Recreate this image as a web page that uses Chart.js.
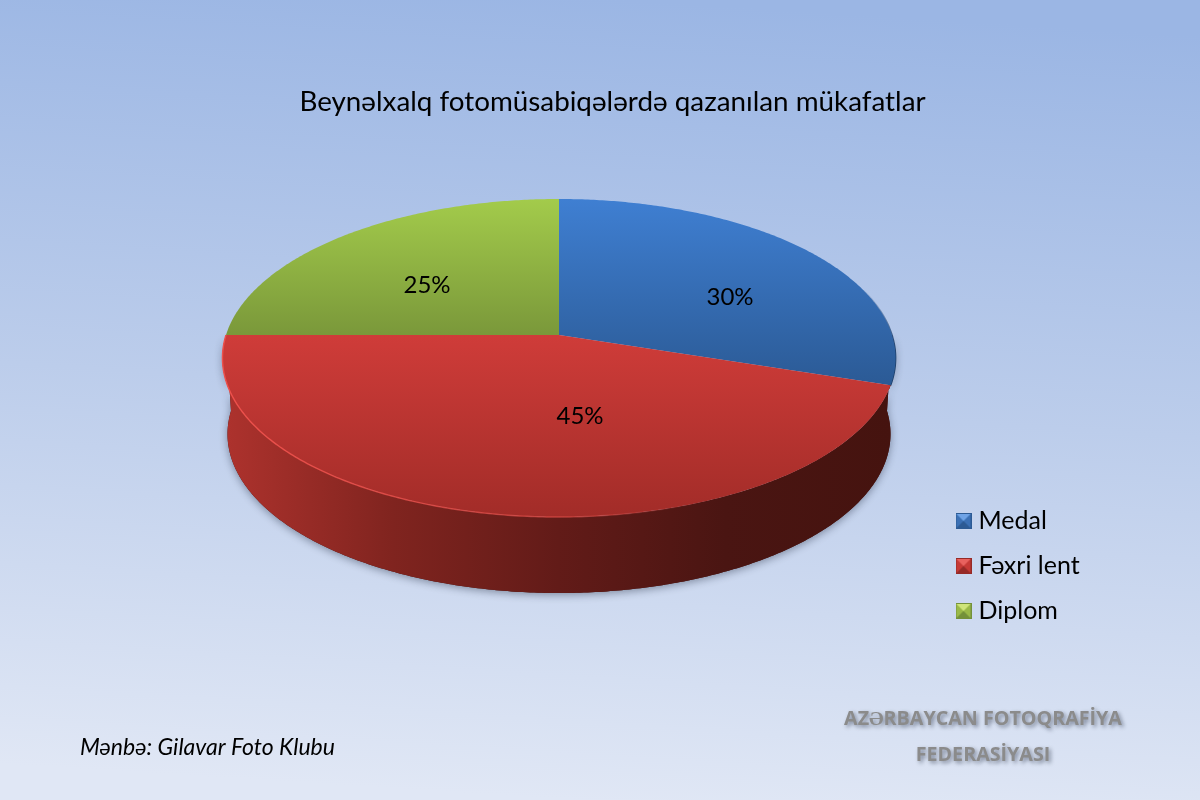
<!DOCTYPE html>
<html><head><meta charset="utf-8">
<style>html,body{margin:0;padding:0;width:1200px;height:800px;overflow:hidden}canvas{display:block}</style>
<script src="https://cdn.jsdelivr.net/npm/chart.js@4"></script>
</head><body>
<canvas id="c" width="1200" height="800"></canvas>
<script>
const categories = ["Medal", "Fəxri lent", "Diplom"];
const shares = [30, 45, 25];
const titleText = "Beynəlxalq fotomüsabiqələrdə qazanılan mükafatlar";
const sourceText = "Mənbə: Gilavar Foto Klubu";
const brandLines = ["AZƏRBAYCAN FOTOQRAFİYA", "FEDERASİYASI"];
const faceTop = ["#3f7fd2", "#cf3c39", "#a3cb4b"];
const faceBottom = ["#2b5a95", "#a22c28", "#7a983a"];
const legendFill = ["#3b70b5", "#c63a36", "#9ab948"];
const legendLight = ["#6fa3e6", "#e8625e", "#cfe57a"];
const legendDark = ["#2c5a94", "#962a27", "#74913a"];
const labelOffset = [[171, -38], [21, 81], [-132, -50]];

const PERSP = -0.1447, KY = 155.7, WALL = 76, BASE = 0.985;
function pt(el, a, wall) {
  const u = Math.cos(a), v = Math.sin(a), d = 1 + PERSP * v;
  const sx = wall ? BASE : 1;
  return [el.x + el.outerRadius * sx * u / d, el.y + KY * v / d + (wall ? WALL : 0)];
}
function traceArc(ctx, el, a0, a1, wall, move) {
  const n = Math.max(2, Math.ceil(Math.abs(a1 - a0) / 0.01));
  for (let i = 0; i <= n; i++) {
    const p = pt(el, a0 + (a1 - a0) * i / n, wall);
    if (i === 0 && move) ctx.moveTo(p[0], p[1]); else ctx.lineTo(p[0], p[1]);
  }
}
function icon(i) {
  const c = document.createElement("canvas"); c.width = 16; c.height = 16;
  const g = c.getContext("2d");
  g.fillStyle = legendFill[i]; g.fillRect(0, 0, 16, 16);
  const tri = (col, pts) => { g.fillStyle = col; g.beginPath(); pts.forEach((p, k) => k ? g.lineTo(p[0], p[1]) : g.moveTo(p[0], p[1])); g.fill(); };
  tri(legendLight[i], [[1, 1], [15, 1], [8, 8]]);
  tri(legendDark[i], [[1, 15], [15, 15], [8, 8]]);
  g.strokeStyle = legendDark[i]; g.lineWidth = 1; g.strokeRect(.5, .5, 15, 15);
  return c;
}
const pie3d = {
  id: "pie3d",
  beforeDraw(chart) {
    const ctx = chart.ctx;
    const g = ctx.createLinearGradient(625, 0, 575, 800);
    g.addColorStop(0, "#9bb6e4"); g.addColorStop(.5, "#bccdeb"); g.addColorStop(1, "#e0e7f5");
    ctx.fillStyle = g; ctx.fillRect(0, 0, 1200, 800);
  },
  afterLayout(chart) {
    chart.chartArea = { left: 226, right: 892, top: 2, bottom: 668, width: 666, height: 666 };
    const t = chart.titleBlock, l = chart.legend;
    t.left = 25; t.right = 1200; t.top = 85; t.bottom = 125;
    l.left = 941; l.right = 1190; l.top = 431; l.bottom = 701;
  },
  beforeDatasetDraw(chart, args) {
    const ctx = chart.ctx, arcs = args.meta.data;
    const c0 = arcs[0];
    ctx.save();
    ctx.shadowColor = "rgba(30,40,60,.45)"; ctx.shadowBlur = 9; ctx.shadowOffsetY = 2;
    ctx.fillStyle = "#45130f";
    ctx.beginPath();
    traceArc(ctx, c0, 0, Math.PI, true, true);
    traceArc(ctx, c0, Math.PI, 0, false, false);
    ctx.closePath(); ctx.fill();
    ctx.restore();
    const red = arcs[1];
    ctx.beginPath();
    traceArc(ctx, red, 0, Math.PI, true, true);
    traceArc(ctx, red, Math.PI, 0, false, false);
    ctx.closePath();
    const wg = ctx.createLinearGradient(red.x - red.outerRadius, 0, red.x + red.outerRadius, 0);
    wg.addColorStop(0, "#ad322d"); wg.addColorStop(.25, "#80241f");
    wg.addColorStop(.5, "#621b18"); wg.addColorStop(.75, "#4a1512"); wg.addColorStop(1, "#45130f");
    ctx.fillStyle = wg; ctx.fill();
    const blue = arcs[0];
    ctx.save();
    const sl = ctx.createLinearGradient(0, 285, 0, 350);
    sl.addColorStop(0, "rgba(29,63,106,0)"); sl.addColorStop(1, "rgba(29,63,106,1)");
    ctx.strokeStyle = sl; ctx.lineWidth = 1.6;
    ctx.beginPath();
    traceArc(ctx, blue, -0.3, blue.endAngle, false, true);
    ctx.stroke();
    ctx.restore();
    arcs.forEach((el, i) => {
      const pts = []; const n = 200;
      for (let k = 0; k <= n; k++) pts.push(pt(el, el.startAngle + (el.endAngle - el.startAngle) * k / n, false));
      const ys = pts.map(p => p[1]).concat([el.y]);
      const g = ctx.createLinearGradient(0, Math.min(...ys), 0, Math.max(...ys));
      g.addColorStop(0, faceTop[i]); g.addColorStop(1, faceBottom[i]);
      ctx.beginPath(); ctx.moveTo(el.x, el.y);
      traceArc(ctx, el, el.startAngle, el.endAngle, false, false);
      ctx.closePath(); ctx.fillStyle = g; ctx.fill();
    });
    ctx.save();
    const rim = ctx.createLinearGradient(226, 0, 700, 0);
    rim.addColorStop(0, "rgba(238,80,75,1)"); rim.addColorStop(.7, "rgba(230,80,75,.6)"); rim.addColorStop(1, "rgba(230,80,75,0)");
    ctx.strokeStyle = rim; ctx.lineWidth = 1.4;
    ctx.beginPath();
    traceArc(ctx, red, red.startAngle, red.endAngle, false, true);
    ctx.stroke();
    ctx.restore();
    return false;
  },
  afterDraw(chart) {
    const ctx = chart.ctx, arcs = chart.getDatasetMeta(0).data;
    ctx.save();
    ctx.fillStyle = "#000"; ctx.font = "24px Lato"; ctx.textAlign = "center"; ctx.textBaseline = "middle";
    arcs.forEach((el, i) => ctx.fillText(shares[i] + "%", el.x + labelOffset[i][0], el.y + labelOffset[i][1]));
    ctx.textAlign = "left"; ctx.font = "italic 23px Lato"; ctx.fillStyle = "#000";
    ctx.fillText(sourceText, 80, 748);
    ctx.textAlign = "center"; ctx.font = "bold 19.7px 'Open Sans'"; ctx.fillStyle = "#8b8b8b";
    ctx.shadowColor = "rgba(40,50,70,.55)"; ctx.shadowBlur = 4; ctx.shadowOffsetX = 2; ctx.shadowOffsetY = 2;
    ctx.fillText(brandLines[0], 983, 719);
    ctx.fillText(brandLines[1], 983, 755);
    ctx.restore();
  }
};
new Chart(document.getElementById("c"), {
  type: "pie",
  plugins: [pie3d],
  data: { labels: categories, datasets: [{ data: shares, backgroundColor: legendFill, borderWidth: 0 }] },
  options: {
    responsive: false, animation: false, devicePixelRatio: 1,
    plugins: {
      tooltip: { enabled: false },
      title: { display: true, text: titleText, color: "#000", font: { family: "Lato", size: 27.8, weight: "normal" }, padding: 0 },
      legend: {
        position: "right", align: "center",
        labels: {
          color: "#000", font: { family: "Lato", size: 25 }, padding: 20, usePointStyle: true, boxWidth: 16, pointStyleWidth: 5,
          generateLabels: () => categories.map((t, i) => ({ text: t, fillStyle: legendFill[i], strokeStyle: legendFill[i], fontColor: "#000", lineWidth: 0, pointStyle: icon(i), index: i, hidden: false }))
        }
      }
    }
  }
});
</script>
</body></html>
